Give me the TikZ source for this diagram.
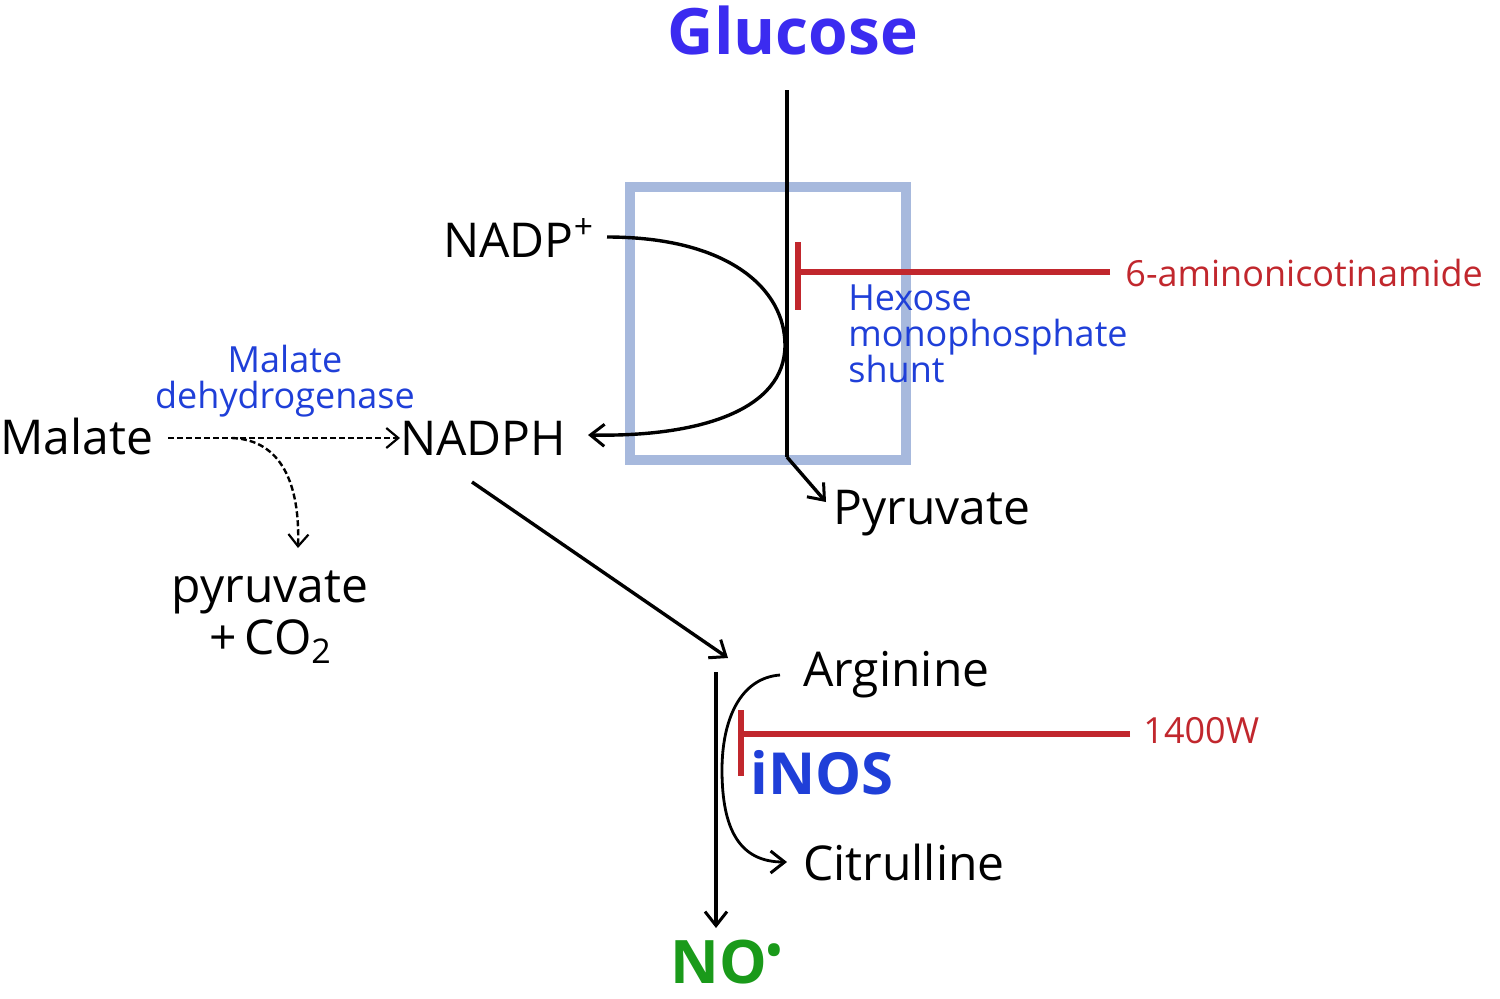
\documentclass[tikz,border=0pt]{standalone}
\usepackage{fontspec}
\setmainfont{Open Sans}
\usetikzlibrary{arrows.meta}
\definecolor{boxblue}{HTML}{A7B9DD}
\definecolor{inhred}{HTML}{C1272D}
\definecolor{lblblue}{HTML}{1F3FD8}
\definecolor{glcblue}{HTML}{3B2BF0}
\definecolor{nogreen}{HTML}{1A9A1A}
\tikzset{
  txt/.style={inner sep=0pt, font=\fontsize{24}{26}\selectfont},
  smallblue/.style={inner sep=0pt, text=lblblue, font=\fontsize{18}{18}\selectfont},
  redtxt/.style={inner sep=0pt, text=inhred, font=\fontsize{18}{20}\selectfont},
  flow/.style={line width=1.7pt, -{Straight Barb[length=7pt,width=11pt,line width=1.5pt]}},
  plain/.style={line width=1.7pt},
  dflow/.style={line width=1.2pt, dash pattern=on 3pt off 1.5pt, -{Straight Barb[length=6pt,width=10pt,line width=1.1pt]}},
  inhline/.style={line width=3pt, draw=inhred},
}
\begin{document}
\begin{tikzpicture}[x=0.5pt,y=-0.5pt]
\useasboundingbox (0,0) rectangle (1500,998);
% shunt box
\draw[boxblue, line width=5pt] (630,187) rectangle (906,460);
% texts
\node[inner sep=0pt, text=glcblue, font=\bfseries\fontsize{32}{34}\selectfont] (glc) at (793,30) {Glucose};
\node[txt, anchor=west] (nadp) at (443,238) {NADP\textsuperscript{+}};
\node[txt, anchor=west] (malate) at (0,436) {Malate};
\node[txt, anchor=west] (nadph) at (400,438) {NADPH};
\node[smallblue, align=center] (mdh) at (285,381) {Malate\\dehydrogenase};
\node[smallblue, align=left, anchor=north west] (hms) at (848,284) {Hexose\\monophosphate\\shunt};
\node[redtxt, anchor=west] (ami) at (1125,273) {6-aminonicotinamide};
\node[txt, anchor=west] (pyr) at (833,513) {Pyruvate};
\node[txt, align=center] (pco) at (270,617) {pyruvate\\+\,CO\raisebox{-0.35ex}{\fontsize{17}{18}\selectfont 2}};
\node[txt, anchor=west] (arg) at (803,675) {Arginine};
\node[txt, anchor=west] (cit) at (803,862) {Citrulline};
\node[inner sep=0pt, anchor=west, text=lblblue, font=\bfseries\fontsize{29}{30}\selectfont] (inos) at (750,773) {iNOS};
\node[redtxt, anchor=west] (w1400) at (1143,731) {1400W};
\node[inner sep=0pt, anchor=west, text=nogreen, font=\bfseries\fontsize{30}{32}\selectfont] (no) at (670,962) {NO\textsuperscript{\textbullet}};
% coordinates
\coordinate (gtop) at (787,90);
\coordinate (gbot) at (787,457);
\coordinate (pyrtip) at (826,502);
\coordinate (nadpS) at (607,237);
\coordinate (nadphE) at (588,435);
\coordinate (mS) at (168,438);
\coordinate (mBr) at (232,438);
\coordinate (pcoT) at (298,548);
\coordinate (nS) at (472,482);
\coordinate (nE) at (728,658);
\coordinate (vT) at (716,672);
\coordinate (vB) at (716,928);
\coordinate (argS) at (780,675);
\coordinate (citE) at (787,862);
\coordinate (inh1S) at (1110,272);
\coordinate (inh1E) at (798,272);
\coordinate (bar1T) at (798,242);
\coordinate (bar1B) at (798,310);
\coordinate (inh2S) at (1130,734);
\coordinate (inh2E) at (741,734);
\coordinate (bar2T) at (741,710);
\coordinate (bar2B) at (741,776);
% glucose pathway
\draw[plain] (gtop) -- (gbot);
\draw[flow] (gbot) -- (pyrtip);
\draw[flow] (nadpS) .. controls (730,237) and (785,290) .. (785,345)
  .. controls (785,410) and (700,437) .. (nadphE);
% malate
\draw[dflow] (mS) -- (nadph.west);
\draw[dflow] (mBr) .. controls (282,440) and (300,485) .. (pcoT);
% NADPH to iNOS
\draw[flow] (nS) -- (nE);
\draw[flow] (vT) -- (vB);
\draw[flow, line width=1.4pt] (argS) .. controls (740,678) and (722,720) .. (722,770)
  .. controls (722,830) and (740,862) .. (citE);
% inhibitors
\draw[inhline] (inh1S) -- (inh1E);
\draw[inhline] (bar1T) -- (bar1B);
\draw[inhline] (inh2S) -- (inh2E);
\draw[inhline] (bar2T) -- (bar2B);
\end{tikzpicture}
\end{document}
